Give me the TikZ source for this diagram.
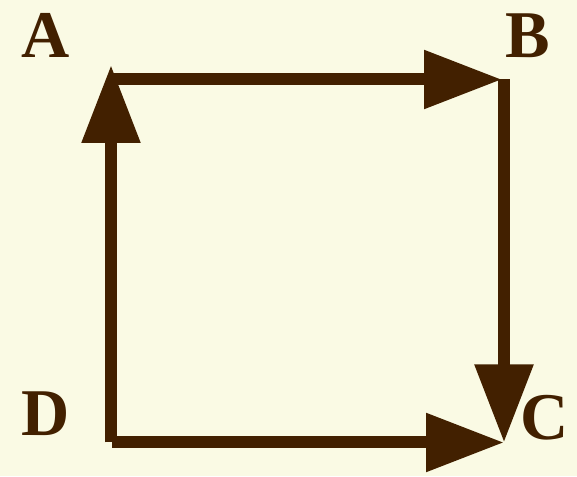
\documentclass[tikz,border=0pt]{standalone}
\usepackage{fontspec}
\setmainfont{Liberation Serif}
\usetikzlibrary{arrows.meta}
\definecolor{cream}{RGB}{250,250,228}
\definecolor{umber}{RGB}{66,32,0}
\begin{document}
\begin{tikzpicture}[arr/.style={draw=umber,line width=0.12cm,-{Triangle[length=0.78cm,width=0.56cm]}},
  lbl/.style={anchor=base,text=umber,font=\fontsize{19}{19}\selectfont\bfseries}]
\fill[cream] (0,0) rectangle (5.77,4.76);
\useasboundingbox (0,0) rectangle (5.77,4.76);

\coordinate (a) at (1.11,4.11);
\coordinate (b) at (5.04,3.965);
\coordinate (c) at (5.04,0.335);
\coordinate (d) at (1.11,0.335);

\node[lbl] (la) at (0.46,4.18) {A};
\node[lbl] (lb) at (5.28,4.18) {B};
\node[lbl] (lc) at (5.45,0.36) {C};
\node[lbl] (ld) at (0.455,0.40) {D};

\draw[arr] (d) -- (a);
\draw[arr] (a |- b) -- ([xshift=-0.02cm]b);
\draw[arr] (b) -- (c);
\draw[arr] ([xshift=0.01cm]d) -- (c);

\end{tikzpicture}
\end{document}
